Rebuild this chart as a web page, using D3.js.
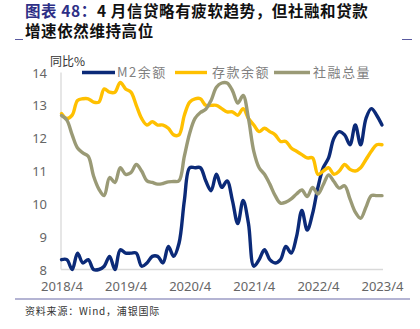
<!DOCTYPE html>
<html>
<head>
<meta charset="utf-8">
<script src="https://cdn.jsdelivr.net/npm/d3@7/dist/d3.min.js"></script>
<style>
  html, body { margin: 0; padding: 0; background: #fff; }
  svg { display: block; }
</style>
</head>
<body>
<svg id="chart" width="420" height="329"></svg>
<script>
// Monthly year-on-year growth, April 2018 – April 2023 (%)
const months = d3.range(61).map(i => {
  const m = 3 + i; // 0-based month offset from Jan 2018
  return (2018 + Math.floor(m / 12)) + "/" + (m % 12 + 1);
});

const m2Growth = [8.3, 8.3, 8.0, 8.5, 8.2, 8.3, 8.0, 8.0, 8.1,
  8.4, 8.0, 8.6, 8.5, 8.5, 8.5, 8.1, 8.2, 8.4, 8.4, 8.2, 8.7,
  8.4, 8.8, 10.1, 11.1, 11.1, 11.1, 10.7, 10.4, 10.9, 10.5, 10.7, 10.1,
  9.4, 10.1, 9.4, 8.1, 8.3, 8.6, 8.3, 8.2, 8.3, 8.7, 8.5, 9.0,
  9.8, 9.2, 9.7, 10.5, 11.1, 11.4, 12.0, 12.2, 12.1, 11.8, 12.4, 11.8,
  12.6, 12.9, 12.7, 12.4];

const depositGrowth = [12.75, 12.6, 12.7, 13.15, 13.2, 13.2, 13.1, 13.1, 13.5,
  13.4, 13.4, 13.7, 13.5, 13.4, 13.0, 12.6, 12.4, 12.5, 12.4, 12.4, 12.3,
  12.1, 12.1, 12.7, 13.1, 13.2, 13.2, 13.0, 13.0, 13.0, 12.9, 12.8, 12.8,
  12.7, 12.9, 12.6, 12.4, 12.2, 12.3, 12.2, 12.1, 11.9, 11.9, 11.7, 11.6,
  11.5, 11.4, 11.4, 10.9, 11.0, 11.1, 10.9, 11.0, 11.2, 11.05, 11.0, 11.1,
  11.35, 11.6, 11.8, 11.8];

const tsfGrowth = [12.69, 12.55, 12.1, 11.7, 11.55, 11.45, 10.85, 10.45, 10.25,
  10.8, 10.65, 11.1, 10.9, 10.95, 11.2, 11.0, 10.7, 10.65, 10.6, 10.62, 10.67,
  10.68, 10.7, 11.45, 12.15, 12.6, 12.78, 12.88, 13.15, 13.55, 13.68, 13.68, 13.45,
  13.07, 13.3, 12.6, 11.6, 11.1, 10.9, 10.6, 10.25, 10.02, 10.05, 10.15, 10.3,
  10.42, 10.22, 10.5, 10.3, 10.58, 10.88, 10.68, 10.48, 10.55, 10.15, 9.75, 9.56,
  9.9, 10.25, 10.25, 10.25];

const seriesNames = ["M2余额", "存款余额", "社融总量"];
const seriesColors = ["#0b2a78", "#ffc000", "#9a9a76"];
const yTicks = [8, 9, 10, 11, 12, 13, 14];
const xTickLabels = ["2018/4", "2019/4", "2020/4", "2021/4", "2022/4", "2023/4"];

const svg = d3.select("#chart");
const cjk = "'Noto Sans CJK SC', 'Noto Sans', sans-serif";
const latin = "'Noto Sans', 'Open Sans', sans-serif";

// Title
const title1 = svg.append("text").attr("x", 25).attr("y", 16.5)
  .attr("font-family", cjk).attr("font-weight", 700).attr("font-size", 15.5)
  .attr("letter-spacing", 0.6);
title1.append("tspan").attr("fill", "#2e2f86").text("图表 48：");
title1.append("tspan").attr("fill", "#111").text("4 月信贷略有疲软趋势，但社融和贷款");
svg.append("text").attr("x", 25).attr("y", 36.5)
  .attr("font-family", cjk).attr("font-weight", 700).attr("font-size", 15.5)
  .attr("letter-spacing", 0.6)
  .attr("fill", "#111").text("增速依然维持高位");

// Header rule stubs
svg.append("line").attr("x1", 15).attr("x2", 23).attr("y1", 39.5).attr("y2", 39.5)
  .attr("stroke", "#5a5aa0").attr("stroke-width", 1);
svg.append("line").attr("x1", 402).attr("x2", 412).attr("y1", 39.5).attr("y2", 39.5)
  .attr("stroke", "#5a5aa0").attr("stroke-width", 1);

// Scales
const x = d3.scalePoint().domain(months).range([61.5, 382]);
const y = d3.scaleLinear().domain([8, 14]).range([269.5, 72.5]);

// Axes lines
svg.append("line").attr("x1", 61).attr("x2", 61).attr("y1", y(14)).attr("y2", y(8))
  .attr("stroke", "#d9d9d9").attr("stroke-width", 1.3);
svg.append("line").attr("x1", 61).attr("x2", 383).attr("y1", y(8)).attr("y2", y(8))
  .attr("stroke", "#d9d9d9").attr("stroke-width", 1.3);

// Y axis labels
const yAxis = d3.axisLeft(y).tickValues(yTicks).tickFormat(d3.format("d")).tickSize(0).tickPadding(0);
const gy = svg.append("g").attr("transform", "translate(47,0)").call(yAxis);
gy.select(".domain").remove();
gy.selectAll("text").attr("font-family", latin).attr("font-size", 13)
  .attr("fill", "#666").attr("dy", "0.35em");

// X axis labels
const xAxis = d3.axisBottom(x).tickValues(xTickLabels).tickSize(0).tickPadding(0);
const gx = svg.append("g").attr("transform", "translate(0,282)").call(xAxis);
gx.select(".domain").remove();
gx.selectAll("text").attr("font-family", latin).attr("font-size", 13)
  .attr("fill", "#666").attr("dy", "0.71em");

// Unit label
svg.append("text").attr("x", 50).attr("y", 66)
  .attr("font-family", cjk).attr("font-size", 12).attr("fill", "#333").text("同比%");

// Lines
const line = d3.line()
  .x((d, i) => x(months[i]))
  .y(d => y(d))
  .curve(d3.curveCatmullRom.alpha(0.5));

[m2Growth, depositGrowth, tsfGrowth].forEach((data, k) => {
  svg.append("path").datum(data)
    .attr("d", line)
    .attr("fill", "none")
    .attr("stroke", seriesColors[k])
    .attr("stroke-width", 3.4)
    .attr("stroke-linejoin", "round")
    .attr("stroke-linecap", "round");
});

// Legend
const legendItems = [
  { x1: 82, x2: 115, tx: 117 },
  { x1: 175, x2: 207, tx: 212 },
  { x1: 274, x2: 310, tx: 313 }
];
legendItems.forEach((it, k) => {
  svg.append("line").attr("x1", it.x1).attr("x2", it.x2).attr("y1", 72.5).attr("y2", 72.5)
    .attr("stroke", seriesColors[k]).attr("stroke-width", 3.4);
  svg.append("text").attr("x", it.tx).attr("y", 72.5).attr("dy", "0.35em")
    .attr("font-family", cjk).attr("font-size", 13).attr("letter-spacing", 1.5)
    .attr("fill", "#808080").text(seriesNames[k]);
});

// Footer rule and source
svg.append("line").attr("x1", 15).attr("x2", 410).attr("y1", 299).attr("y2", 299)
  .attr("stroke", "#6a6aa8").attr("stroke-width", 1.2);
svg.append("text").attr("x", 25).attr("y", 311).attr("dy", "0.35em")
  .attr("font-family", cjk).attr("font-size", 10).attr("letter-spacing", 0.8)
  .attr("fill", "#333").text("资料来源：Wind，浦银国际");
</script>
</body>
</html>
